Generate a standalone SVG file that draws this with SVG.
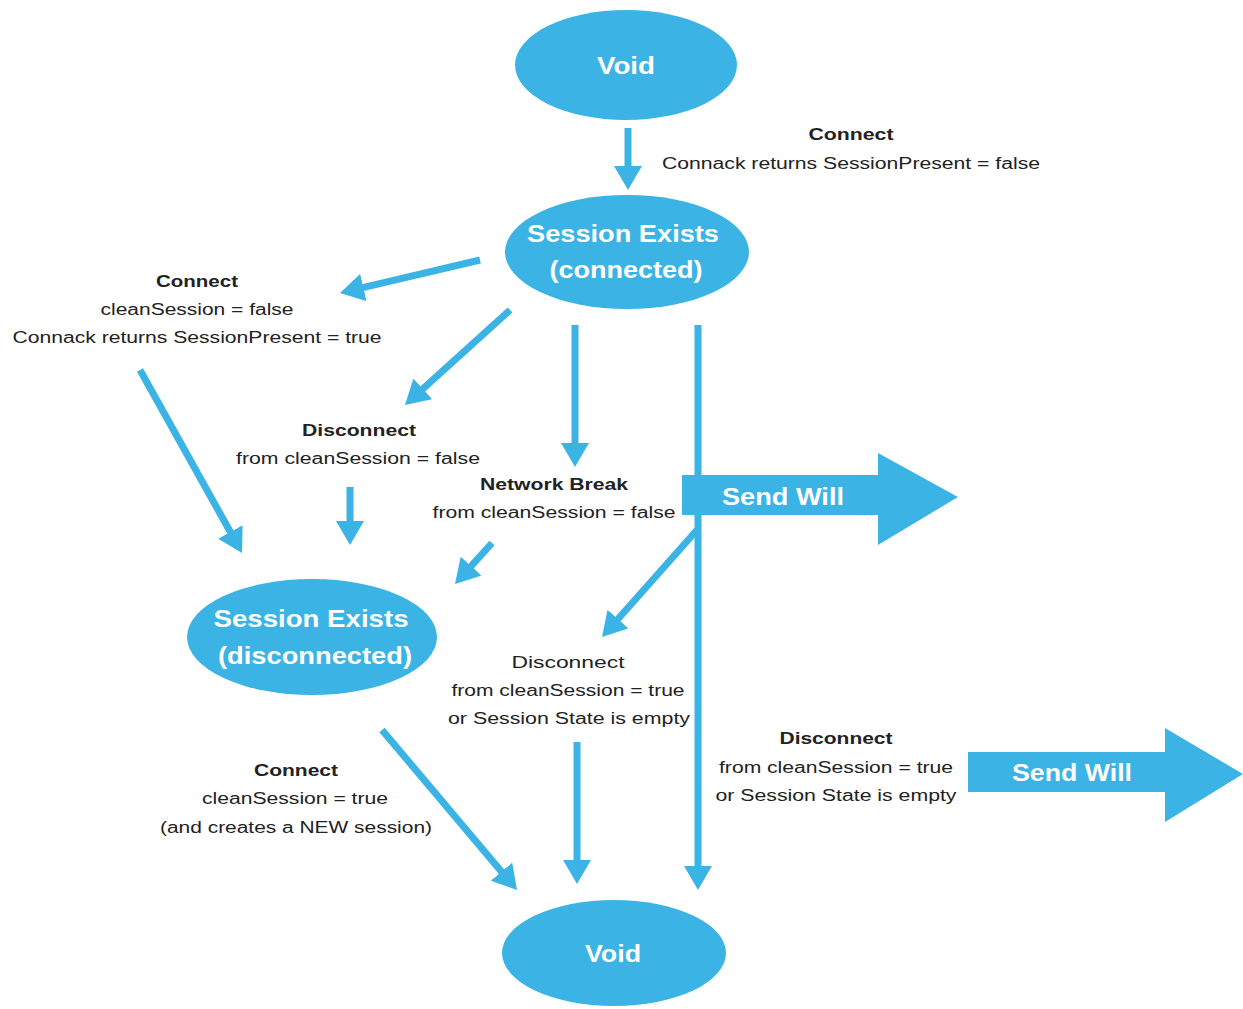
<svg xmlns="http://www.w3.org/2000/svg" width="1243" height="1009" viewBox="0 0 1243 1009">
<defs>
<style>
.node{fill:#3bb4e5}
.nt{fill:#ffffff;font-family:"Liberation Sans",Arial,sans-serif;font-weight:bold;font-size:24px;text-anchor:middle;dominant-baseline:central}
.lb{fill:#222222;font-family:"Liberation Sans",Arial,sans-serif;font-size:16px;text-anchor:middle;dominant-baseline:central}
.lbb{font-weight:bold}
.cn{stroke:#3bb4e5;stroke-width:7;fill:none;marker-end:url(#ah)}
.big{fill:#3bb4e5}
</style>
<marker id="ah" markerUnits="userSpaceOnUse" markerWidth="26" markerHeight="28" refX="4" refY="14" orient="auto" viewBox="0 0 26 28">
<path d="M0,0 L24,14 L0,28 z" fill="#3bb4e5"/>
</marker>
</defs>
<rect width="1243" height="1009" fill="#ffffff"/>

<g id="sendwill1">
<path class="big" d="M682,475 H878 V453 L958,497 L878,545 V515 H682 z"/>
<text class="nt" x="783" y="496" textLength="122" lengthAdjust="spacingAndGlyphs">Send Will</text>
</g>
<g id="sendwill2">
<path class="big" d="M968,752 H1165 V728 L1243,774 L1165,822 V792 H968 z"/>
<text class="nt" x="1072" y="772" textLength="120" lengthAdjust="spacingAndGlyphs">Send Will</text>
</g>

<g id="connectors">
<line class="cn" x1="628" y1="128" x2="628" y2="170"/>
<line class="cn" x1="480" y1="260" x2="359.5" y2="288.4"/>
<line class="cn" x1="510" y1="310" x2="419.8" y2="391.6"/>
<line class="cn" x1="575" y1="325" x2="575" y2="447"/>
<line class="cn" x1="698" y1="325" x2="698" y2="870"/>
<line class="cn" x1="140" y1="370" x2="232.3" y2="535.5"/>
<line class="cn" x1="350" y1="487" x2="350" y2="525"/>
<line class="cn" x1="492" y1="543" x2="468.4" y2="569.1"/>
<line class="cn" x1="697" y1="530" x2="615.3" y2="622"/>
<line class="cn" x1="577" y1="742" x2="577" y2="864"/>
<line class="cn" x1="382" y1="730" x2="504.1" y2="874.7"/>
</g>

<g id="void-top">
<ellipse class="node" cx="626" cy="65" rx="111" ry="55"/>
<text class="nt" x="626" y="65" textLength="58" lengthAdjust="spacingAndGlyphs">Void</text>
</g>
<g id="session-connected">
<ellipse class="node" cx="627" cy="252" rx="122" ry="57"/>
<text class="nt" x="623" y="233" textLength="192" lengthAdjust="spacingAndGlyphs">Session Exists</text>
<text class="nt" x="626" y="269" textLength="153" lengthAdjust="spacingAndGlyphs">(connected)</text>
</g>
<g id="session-disconnected">
<ellipse class="node" cx="312" cy="637" rx="125" ry="58"/>
<text class="nt" x="311" y="618" textLength="195" lengthAdjust="spacingAndGlyphs">Session Exists</text>
<text class="nt" x="315" y="655" textLength="194" lengthAdjust="spacingAndGlyphs">(disconnected)</text>
</g>
<g id="void-bottom">
<ellipse class="node" cx="614" cy="953" rx="112" ry="53"/>
<text class="nt" x="613" y="953" textLength="56" lengthAdjust="spacingAndGlyphs">Void</text>
</g>

<g id="labels">
<text class="lb lbb" x="851" y="134" textLength="85" lengthAdjust="spacingAndGlyphs">Connect</text>
<text class="lb" x="851" y="163" textLength="378" lengthAdjust="spacingAndGlyphs">Connack returns SessionPresent = false</text>

<text class="lb lbb" x="197" y="281" textLength="82" lengthAdjust="spacingAndGlyphs">Connect</text>
<text class="lb" x="197" y="309" textLength="193" lengthAdjust="spacingAndGlyphs">cleanSession = false</text>
<text class="lb" x="197" y="337" textLength="369" lengthAdjust="spacingAndGlyphs">Connack returns SessionPresent = true</text>

<text class="lb lbb" x="359" y="430" textLength="114" lengthAdjust="spacingAndGlyphs">Disconnect</text>
<text class="lb" x="358" y="458" textLength="244" lengthAdjust="spacingAndGlyphs">from cleanSession = false</text>

<text class="lb lbb" x="554" y="484" textLength="148" lengthAdjust="spacingAndGlyphs">Network Break</text>
<text class="lb" x="554" y="512" textLength="243" lengthAdjust="spacingAndGlyphs">from cleanSession = false</text>

<text class="lb" x="568" y="662" textLength="113" lengthAdjust="spacingAndGlyphs">Disconnect</text>
<text class="lb" x="568" y="690" textLength="233" lengthAdjust="spacingAndGlyphs">from cleanSession = true</text>
<text class="lb" x="569" y="718" textLength="242" lengthAdjust="spacingAndGlyphs">or Session State is empty</text>

<text class="lb lbb" x="836" y="738" textLength="113" lengthAdjust="spacingAndGlyphs">Disconnect</text>
<text class="lb" x="836" y="767" textLength="234" lengthAdjust="spacingAndGlyphs">from cleanSession = true</text>
<text class="lb" x="836" y="795" textLength="241" lengthAdjust="spacingAndGlyphs">or Session State is empty</text>

<text class="lb lbb" x="296" y="770" textLength="84" lengthAdjust="spacingAndGlyphs">Connect</text>
<text class="lb" x="295" y="798" textLength="186" lengthAdjust="spacingAndGlyphs">cleanSession = true</text>
<text class="lb" x="296" y="827" textLength="272" lengthAdjust="spacingAndGlyphs">(and creates a NEW session)</text>
</g>
</svg>
